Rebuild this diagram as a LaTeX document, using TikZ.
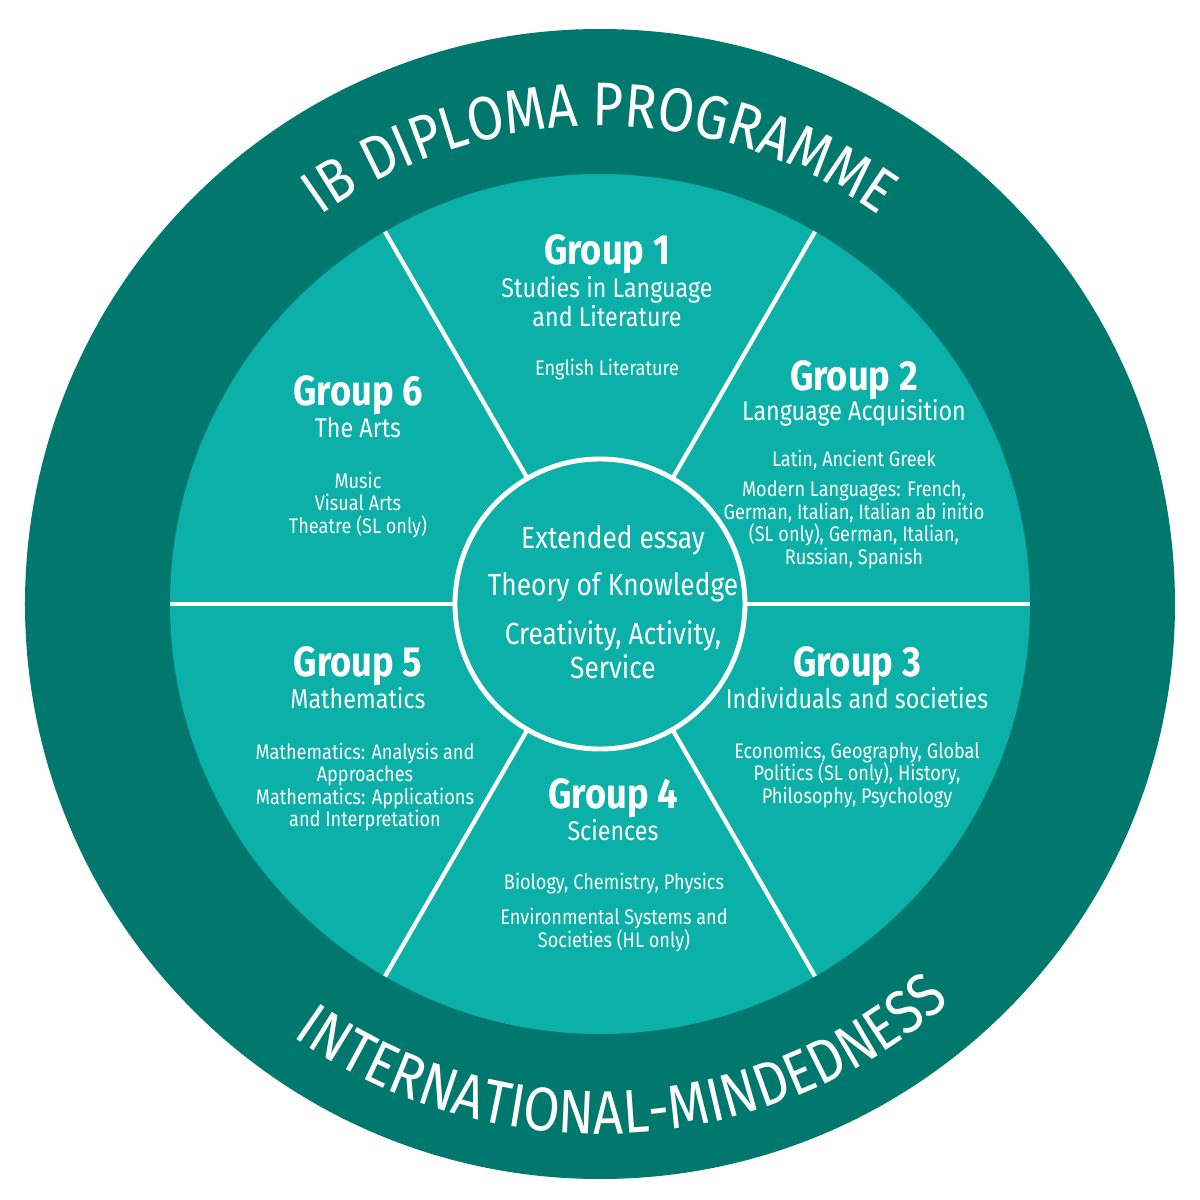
\documentclass[tikz,border=0pt]{standalone}
\usepackage{fontspec}
\setmainfont[FakeStretch=0.86]{Fira Sans}
\usetikzlibrary{decorations.text}
\definecolor{ibdark}{HTML}{00786E}
\definecolor{iblight}{HTML}{0BB1A8}

\begin{document}
\begin{tikzpicture}[every node/.style={text=white, align=center, inner sep=0pt}]
  \tikzstyle{divider} = [draw=white, line width=1.2pt]
  \tikzstyle{head_style} = [font=\fontsize{12}{14}\selectfont\bfseries]
  \tikzstyle{sub_style} = [font=\fontsize{7.7}{8.2}\selectfont\mdseries]
  \tikzstyle{item_style} = [font=\fontsize{6}{6.4}\selectfont]
  \tikzstyle{core_style} = [font=\fontsize{8.7}{9.6}\selectfont]

  \useasboundingbox (-6,-5.96) rectangle (6,6.04);
  \fill[ibdark] (0,0) circle (5.75);
  \fill[iblight] (0,0) circle (4.3);
  \foreach \ang in {0,60,...,300}
    \draw[divider] (\ang:1.45) -- (\ang:4.3);
  \node[circle, minimum size=2.9cm, draw=white, line width=1.4pt, fill=iblight] (core) at (0,0) {};

  % curved ring titles
  \path[decorate, decoration={text along path, text align=center,
    text={|\fontsize{17.5}{17.5}\selectfont\color{white}|IB DIPLOMA PROGRAMME}}]
    (150:4.78) arc (150:30:4.78);
  \path[decorate, decoration={text along path, text align=center,
    text={|\fontsize{17.5}{17.5}\selectfont\color{white}|INTERNATIONAL-MINDEDNESS}}]
    (212:5.3) arc (212:334:5.3);

  % core
  \node[core_style] (essay) at (0.13,0.64) {Extended essay};
  \node[core_style] (tok) at (0.13,0.17) {Theory of Knowledge};
  \node[core_style] (cas) at (0.13,-0.46) {Creativity, Activity,\\Service};

  % group 1
  \node[head_style] (g1) at (0.07,3.5) {Group 1};
  \node[sub_style] (g1s) at (0.07,3.02) {Studies in Language\\and Literature};
  \node[item_style] (g1i) at (0.07,2.34) {English Literature};

  % group 2
  \node[head_style] (g2) at (2.54,2.24) {Group 2};
  \node[sub_style] (g2s) at (2.54,1.91) {Language Acquisition};
  \node[item_style] (g2i) at (2.54,1.44) {Latin, Ancient Greek};
  \node[item_style] (g2m) at (2.54,0.79) {Modern Languages: French,\\German, Italian, Italian ab initio\\(SL only), German, Italian,\\Russian, Spanish};

  % group 3
  \node[head_style] (g3) at (2.57,-0.62) {Group 3};
  \node[sub_style] (g3s) at (2.57,-0.94) {Individuals and societies};
  \node[item_style] (g3i) at (2.57,-1.71) {Economics, Geography, Global\\Politics (SL only), History,\\Philosophy, Psychology};

  % group 4
  \node[head_style] (g4) at (0.13,-1.94) {Group 4};
  \node[sub_style] (g4s) at (0.13,-2.26) {Sciences};
  \node[item_style] (g4i) at (0.14,-2.80) {Biology, Chemistry, Physics};
  \node[item_style] (g4e) at (0.14,-3.26) {Environmental Systems and\\Societies (HL only)};

  % group 5
  \node[head_style] (g5) at (-2.42,-0.62) {Group 5};
  \node[sub_style] (g5s) at (-2.42,-0.94) {Mathematics};
  \node[item_style] (g5i) at (-2.35,-1.83) {Mathematics: Analysis and\\Approaches\\Mathematics: Applications\\and Interpretation};

  % group 6
  \node[head_style] (g6) at (-2.42,2.09) {Group 6};
  \node[sub_style] (g6s) at (-2.42,1.76) {The Arts};
  \node[item_style] (g6i) at (-2.42,0.99) {Music\\Visual Arts\\Theatre (SL only)};
\end{tikzpicture}
\end{document}
